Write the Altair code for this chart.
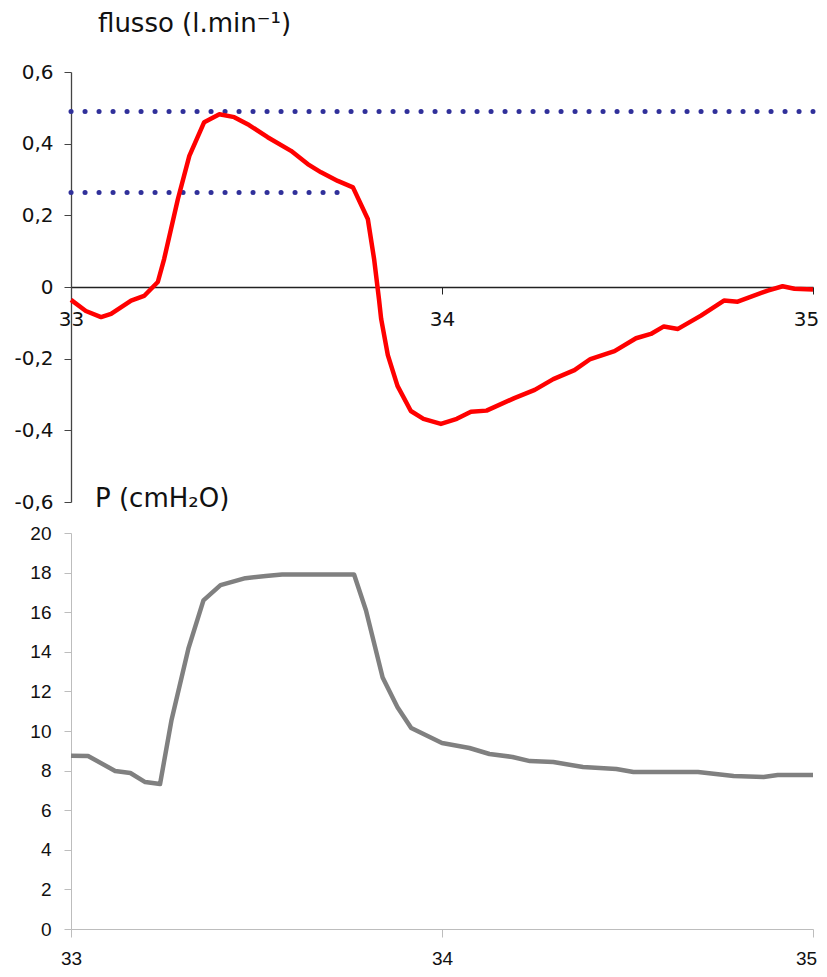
import altair as alt
import pandas as pd

# ---- data ----
flow_t = [33.0, 33.04, 33.081, 33.108, 33.162, 33.197, 33.234, 33.251, 33.288, 33.319,
          33.359, 33.40, 33.44, 33.48, 33.53, 33.593, 33.638, 33.674, 33.719, 33.76,
          33.80, 33.817, 33.83, 33.836, 33.854, 33.88, 33.916, 33.95, 33.997, 34.04,
          34.078, 34.12, 34.195, 34.25, 34.30, 34.357, 34.40, 34.465, 34.523, 34.563,
          34.598, 34.636, 34.698, 34.76, 34.797, 34.878, 34.918, 34.95, 35.0]
flow_v = [-0.036, -0.067, -0.084, -0.075, -0.038, -0.025, 0.014, 0.078, 0.245, 0.366,
          0.46, 0.482, 0.474, 0.452, 0.418, 0.38, 0.343, 0.32, 0.296, 0.278,
          0.19, 0.078, -0.033, -0.089, -0.19, -0.276, -0.346, -0.368, -0.382, -0.368,
          -0.348, -0.345, -0.31, -0.287, -0.257, -0.232, -0.201, -0.179, -0.143, -0.131,
          -0.11, -0.117, -0.08, -0.038, -0.041, -0.01, 0.002, -0.005, -0.007]

p_t = [33.0, 33.046, 33.119, 33.16, 33.20, 33.24, 33.271, 33.317, 33.357, 33.403,
       33.47, 33.525, 33.569, 33.763, 33.795, 33.84, 33.88, 33.917, 34.0, 34.074,
       34.128, 34.19, 34.237, 34.30, 34.38, 34.47, 34.516, 34.69, 34.786, 34.867,
       34.905, 35.0]
p_v = [8.75, 8.74, 7.98, 7.88, 7.42, 7.32, 10.56, 14.2, 16.6, 17.37,
       17.72, 17.83, 17.9, 17.9, 16.1, 12.7, 11.2, 10.15, 9.39, 9.14,
       8.84, 8.69, 8.48, 8.43, 8.18, 8.08, 7.93, 7.93, 7.73, 7.68,
       7.78, 7.78]

ref_level = [0.49, 0.264]
ref_start = [33.0, 33.0]
ref_end = [35.0, 33.735]

flow_ticks = [-0.6, -0.4, -0.2, 0, 0.2, 0.4, 0.6]
p_ticks = [0, 2, 4, 6, 8, 10, 12, 14, 16, 18, 20]
x_ticks = [33, 34, 35]

title_top = ["flusso (l.min⁻¹)"]
title_bottom = ["P (cmH₂O)"]

# ---- tables ----
flow_df = pd.DataFrame({"t": flow_t, "v": flow_v})
p_df = pd.DataFrame({"t": p_t, "v": p_v})
ref_df = pd.DataFrame({"y": ref_level, "x": ref_start, "x2": ref_end})

W = 742
H1 = 430
H2 = 396

xs = alt.Scale(domain=[33, 35], nice=False, zero=False)
ys1 = alt.Scale(domain=[-0.6, 0.6], nice=False)
ys2 = alt.Scale(domain=[0, 20], nice=False)

comma_expr = ("datum.value == 0 ? '0' : "
              "replace(replace(format(datum.value, '.1f'), '.', ','), '\u2212', '-')")
int_expr = "format(datum.value, '.0f')"
last_shift = {"condition": {"test": "datum.value == 35", "value": -7}, "value": 0}

top_x_axis = alt.Axis(values=x_ticks, labelExpr=int_expr, offset=-H1 / 2, domainColor="#222",
                      tickColor="#222", tickSize=7, labelPadding=15, labelFont="DejaVu Sans",
                      labelFontSize=20, labelColor="#111", grid=False, title=None,
                      domainWidth=1.3, labelFlush=False, labelOverlap=False,
                      tickCount=3, labelOffset=last_shift)
top_y_axis = alt.Axis(values=flow_ticks, labelExpr=comma_expr, domainColor="#444",
                      tickColor="#444", tickSize=7, labelPadding=11, labelFont="DejaVu Sans",
                      labelFontSize=20, labelColor="#111", grid=False, title=None,
                      domainWidth=1.3, labelFlush=False, labelOverlap=False)

dots = alt.Chart(ref_df).mark_rule(color="#30309a", strokeWidth=5, strokeDash=[0.1, 13.9],
                                   strokeCap="round").encode(
    x=alt.X("x:Q", scale=xs, axis=top_x_axis),
    x2="x2:Q",
    y=alt.Y("y:Q", scale=ys1, axis=top_y_axis),
)

flow_line = alt.Chart(flow_df).mark_line(color="#ff0000", strokeWidth=4.5,
                                         strokeJoin="round").encode(
    x=alt.X("t:Q", scale=xs, axis=top_x_axis),
    y=alt.Y("v:Q", scale=ys1, axis=top_y_axis),
)

top_title = alt.Chart(pd.DataFrame({"label": title_top})).mark_text(
    align="left", baseline="alphabetic", font="DejaVu Sans", fontSize=26, color="#111"
).encode(x=alt.value(27), y=alt.value(-40), text="label:N")

top = alt.layer(dots, flow_line, top_title).properties(width=W, height=H1)

bot_x_axis = alt.Axis(values=x_ticks, labelExpr=int_expr, domainColor="#bdbdbd",
                      tickColor="#bdbdbd", tickSize=8, labelPadding=12,
                      labelFont="Liberation Sans", labelFontSize=19, labelColor="#111",
                      grid=False, title=None, labelFlush=False, labelOverlap=False,
                      tickCount=3, labelOffset=last_shift)
bot_y_axis = alt.Axis(values=p_ticks, domainColor="#bdbdbd", tickColor="#bdbdbd", tickSize=7,
                      labelPadding=13, labelFont="Liberation Sans", labelFontSize=19,
                      labelColor="#111", grid=False, title=None,
                      labelFlush=False, labelOverlap=False)

p_line = alt.Chart(p_df).mark_line(color="#808080", strokeWidth=4.5, strokeJoin="round").encode(
    x=alt.X("t:Q", scale=xs, axis=bot_x_axis),
    y=alt.Y("v:Q", scale=ys2, axis=bot_y_axis),
)

bot_title = alt.Chart(pd.DataFrame({"label": title_bottom})).mark_text(
    align="left", baseline="alphabetic", font="DejaVu Sans", fontSize=26, color="#111"
).encode(x=alt.value(24), y=alt.value(-26), text="label:N")

bottom = alt.layer(p_line, bot_title).properties(width=W, height=H2)

chart = alt.vconcat(top, bottom, spacing=31, bounds="flush").configure_view(
    stroke=None
).properties(background="white", padding={"left": 5, "top": 3, "right": 0, "bottom": 0})

chart.save("out.html", embed_options={"renderer": "svg", "actions": False})
